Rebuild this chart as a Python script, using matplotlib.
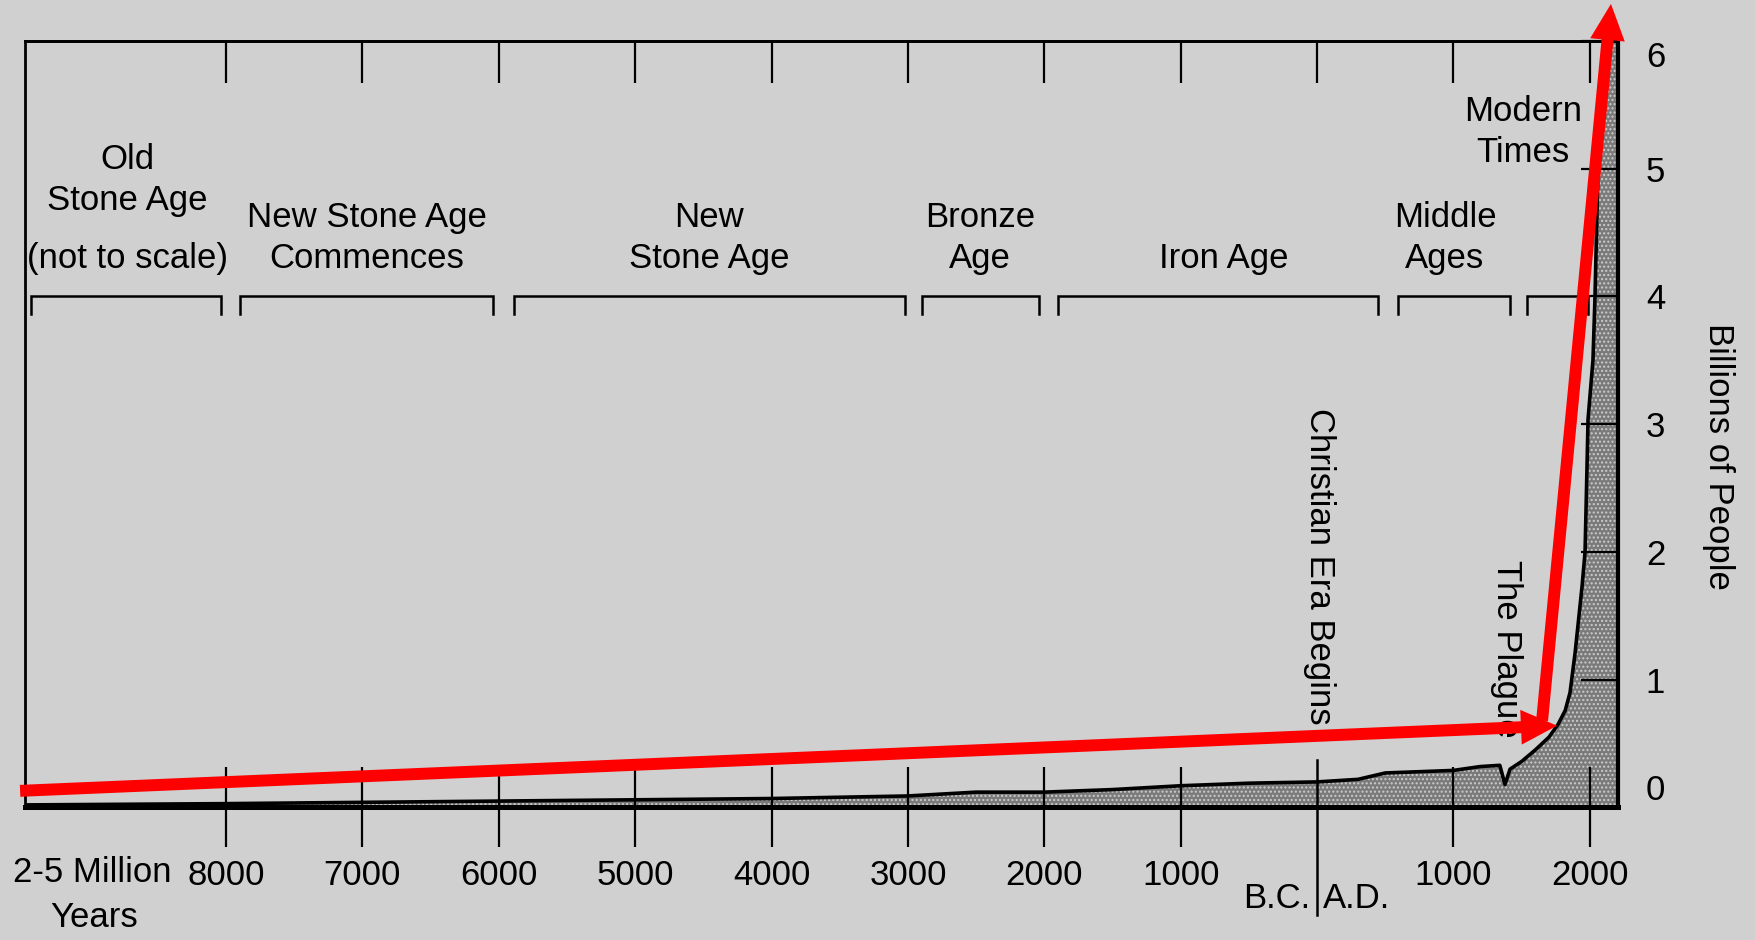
import matplotlib.pyplot as plt

plt.rcParams['font.family'] = ['Liberation Sans', 'DejaVu Sans']
plt.rcParams['hatch.linewidth'] = 1.0

# world population, year (B.C. negative) vs billions of people
years = [-9474, -8000, -7000, -6000, -5000, -4000, -3000, -2500, -2000, -1500,
         -1000, -500, 0, 300, 500, 1000, 1195, 1340, 1378, 1415,
         1500, 1600, 1700, 1767, 1820, 1855, 1892, 1943, 1965, 1979,
         1987, 2023, 2038, 2060, 2126, 2207]
population = [0.02, 0.03, 0.04, 0.05, 0.06, 0.07, 0.09, 0.12, 0.12, 0.14,
              0.17, 0.19, 0.20, 0.22, 0.27, 0.29, 0.32, 0.33, 0.18, 0.30,
              0.36, 0.45, 0.55, 0.65, 0.76, 0.90, 1.21, 1.73, 2.00, 2.65,
              3.04, 3.50, 4.00, 5.00, 6.00, 6.00]

# historical periods (brackets and labels)
period_names = ['Old\nStone Age', 'New Stone Age\nCommences', 'New\nStone Age',
                'Bronze\nAge', 'Iron Age', 'Middle\nAges', 'Modern\nTimes']
period_start = [-9430, -7900, -5890, -2900, -1900, 590, 1540]
period_end = [-8040, -6040, -3020, -2040, 450, 1415, 1990]
period_label_x = [-8722, -6965, -4458, -2471, -682, 938, 1510]
period_label_y = [4.62, 4.17, 4.17, 4.17, 4.17, 4.17, 5.0]

tick_years = [-8000, -7000, -6000, -5000, -4000, -3000, -2000, -1000, 1000, 2000]
tick_labels = ['8000', '7000', '6000', '5000', '4000', '3000', '2000', '1000', '1000', '2000']
top_tick_years = [-8000, -7000, -6000, -5000, -4000, -3000, -2000, -1000, 0, 1000, 2000]
y_ticks = [0, 1, 2, 3, 4, 5, 6]

# red arrows drawn over the chart
arrow_tails = [(-9510, 0.13), (1650, 0.68)]
arrow_heads = [(1760, 0.64), (2155, 6.29)]

bg = '#d0d0d0'
fig = plt.figure(figsize=(17.56, 9.40), dpi=100, facecolor=bg)
ax = fig.add_axes([0.01424, 0.1410, 0.9072, 0.8154], facecolor=bg)

ax.fill_between(years, population, 0, facecolor='#7a7a7a', edgecolor='#cccccc',
                hatch='....', lw=0, zorder=1)
ax.plot(years, population, color='black', lw=2.6, zorder=2)

ax.set_xlim(-9474, 2207)
ax.set_ylim(0, 6.0)

# spines
for side, lw in [('left', 2.0), ('top', 2.0), ('bottom', 3.6), ('right', 3.0)]:
    ax.spines[side].set_linewidth(lw)
    ax.spines[side].set_color('black')

# bottom ticks crossing the baseline
ax.set_xticks(tick_years)
ax.set_xticklabels(tick_labels)
ax.tick_params(axis='x', direction='inout', length=58, width=1.6, pad=8,
               labelsize=25, colors='black')

# top ticks
sec = ax.secondary_xaxis('top')
sec.set_xticks(top_tick_years)
sec.tick_params(direction='in', length=30, width=1.6, labeltop=False, labelbottom=False)
sec.spines['top'].set_linewidth(2.0)

# right axis
ax.yaxis.tick_right()
ax.set_yticks(y_ticks)
ax.set_yticklabels([str(v) for v in y_ticks])
ax.tick_params(axis='y', direction='in', length=27, width=1.6, pad=20, labelsize=25)
ax.get_yticklabels()[0].set_va('bottom')
ax.get_yticklabels()[-1].set_va('top')

ax.text(2947, 2.75, 'Billions of People', rotation=270, ha='center', va='center',
        fontsize=25, clip_on=False)

# period brackets and labels
for s, e in zip(period_start, period_end):
    ax.plot([s, s, e, e], [3.86, 4.0, 4.0, 3.86], color='black', lw=1.8,
            solid_joinstyle='miter')
for name, lx, ly in zip(period_names, period_label_x, period_label_y):
    ax.text(lx, ly, name, ha='center', va='bottom', fontsize=25, linespacing=1.3)
ax.text(-8722, 4.17, '(not to scale)', ha='center', va='bottom', fontsize=25)

# B.C. / A.D. divider
ax.plot([0, 0], [-0.84, 0.37], color='black', lw=1.8, clip_on=False)
ax.text(-50, -0.71, 'B.C.', ha='right', va='center', fontsize=25)
ax.text(40, -0.71, 'A.D.', ha='left', va='center', fontsize=25)
ax.text(-9560, -0.51, '2-5 Million', ha='left', va='center', fontsize=25)
ax.text(-9289, -0.86, 'Years', ha='left', va='center', fontsize=25)

ax.text(15, 3.13, 'Christian Era Begins', rotation=270, ha='center', va='top', fontsize=25)
ax.text(1386, 1.94, 'The Plague', rotation=270, ha='center', va='top', fontsize=25)

for (x0, y0), (x1, y1) in zip(arrow_tails, arrow_heads):
    ax.annotate('', xy=(x1, y1), xytext=(x0, y0), annotation_clip=False,
                arrowprops=dict(arrowstyle='simple,head_length=26,head_width=25,tail_width=8.6',
                                mutation_scale=1, color='#ff0000', lw=0,
                                shrinkA=0, shrinkB=0), zorder=5)

fig.savefig('out.png', dpi=100, facecolor=bg)
